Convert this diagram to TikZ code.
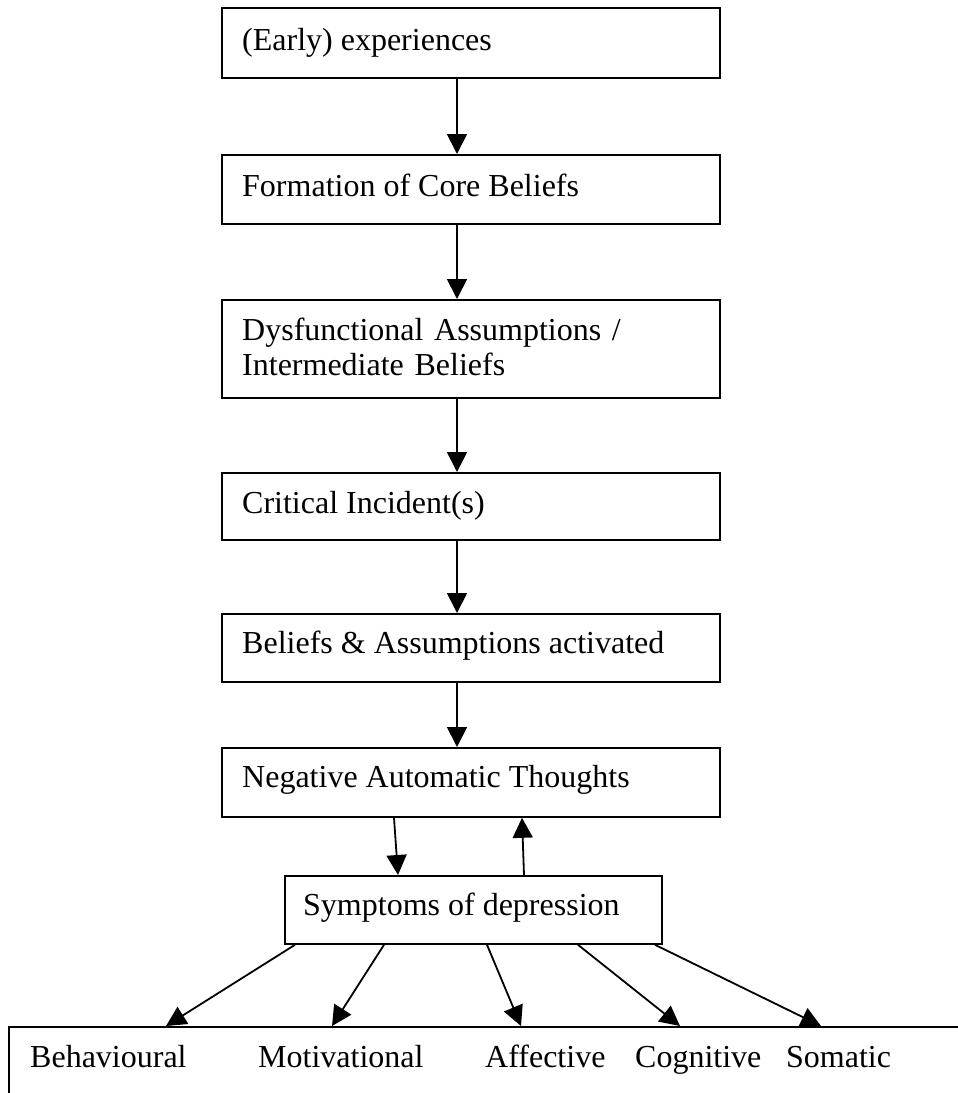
\documentclass[tikz,border=0pt]{standalone}
\usepackage{fontspec}
\setmainfont{Liberation Serif}
\usetikzlibrary{arrows.meta}
\begin{document}
\begin{tikzpicture}[x=1pt,y=-1pt,
  box/.style={draw, line width=1.8pt, rectangle, anchor=north west, inner sep=0pt},
  txt/.style={anchor=base west, inner sep=0pt, font=\fontsize{32}{35}\selectfont},
  arr/.style={line width=1.8pt, -{Triangle[length=20pt,width=20pt]}}]
\useasboundingbox (0,0) rectangle (958,1093);
\clip (0,0) rectangle (958,1093);
% boxes
\node[box, minimum width=498pt, minimum height=70pt] (b1) at (221,7) {};
\node[box, minimum width=498pt, minimum height=69pt] (b2) at (221,154) {};
\node[box, minimum width=498pt, minimum height=98pt] (b3) at (221,299) {};
\node[box, minimum width=498pt, minimum height=67pt] (b4) at (221,472) {};
\node[box, minimum width=498pt, minimum height=68pt] (b5) at (221,613) {};
\node[box, minimum width=498pt, minimum height=69pt] (b6) at (221,747) {};
\node[box, minimum width=377pt, minimum height=68pt] (sym) at (284,875) {};
\node[box, minimum width=990pt, minimum height=140pt] (bot) at (8,1026) {};
% texts
\node[txt] (t1) at (242,50) {(Early) experiences};
\node[txt] (t2) at (242,196) {Formation of Core Beliefs};
\node[txt, text width=470pt, align=left] (t3) at (242,340) {Dysfunctional Assumptions /\\ Intermediate Beliefs};
\node[txt] (t4) at (242,513) {Critical Incident(s)};
\node[txt] (t5) at (242,653) {Beliefs \& Assumptions activated};
\node[txt] (t6) at (242,787) {Negative Automatic Thoughts};
\node[txt] (t7) at (303,915) {Symptoms of depression};
\node[txt] (s1) at (30,1067) {Behavioural};
\node[txt] (s2) at (258,1067) {Motivational};
\node[txt] (s3) at (485,1067) {Affective};
\node[txt] (s4) at (635,1067) {Cognitive};
\node[txt] (s5) at (786,1067) {Somatic};
% main chain
\draw[arr] ([xshift=236pt]b1.south west) -- ([xshift=236pt]b2.north west);
\draw[arr] ([xshift=236pt]b2.south west) -- ([xshift=236pt]b3.north west);
\draw[arr] ([xshift=236pt]b3.south west) -- ([xshift=236pt]b4.north west);
\draw[arr] ([xshift=236pt]b4.south west) -- ([xshift=236pt]b5.north west);
\draw[arr] ([xshift=236pt]b5.south west) -- ([xshift=236pt]b6.north west);
% loop
\draw[arr] ([xshift=173pt]b6.south west) -- ([xshift=114pt]sym.north west);
\draw[arr] ([xshift=240pt]sym.north west) -- ([xshift=301pt]b6.south west);
% symptoms
\draw[arr] ([xshift=11pt]sym.south west) -- ([xshift=158pt]bot.north west);
\draw[arr] ([xshift=100pt]sym.south west) -- ([xshift=324pt]bot.north west);
\draw[arr] ([xshift=203pt]sym.south west) -- ([xshift=513pt]bot.north west);
\draw[arr] ([xshift=294pt]sym.south west) -- ([xshift=672pt]bot.north west);
\draw[arr] ([xshift=371pt]sym.south west) -- ([xshift=813pt]bot.north west);
\end{tikzpicture}
\end{document}
